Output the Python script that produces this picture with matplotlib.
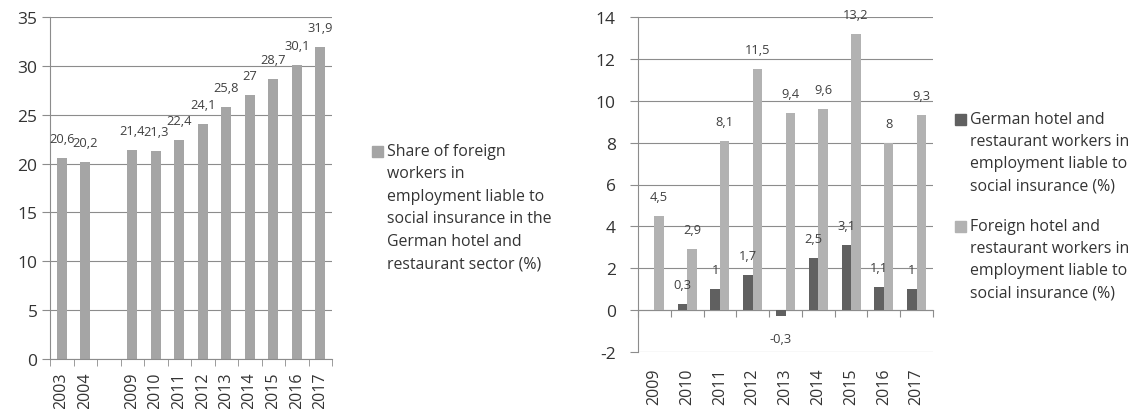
import numpy as np
import matplotlib
matplotlib.use("Agg")
import matplotlib.pyplot as plt
from matplotlib.patches import Rectangle

plt.rcParams["font.family"] = ["Open Sans", "DejaVu Sans"]
plt.rcParams["axes.unicode_minus"] = False

# Left chart: share of foreign workers
share_years = ["2003", "2004", "", "2009", "2010", "2011", "2012",
               "2013", "2014", "2015", "2016", "2017"]
share_values = [20.6, 20.2, np.nan, 21.4, 21.3, 22.4, 24.1,
                25.8, 27, 28.7, 30.1, 31.9]

# Right chart: year-on-year change
change_years = ["2009", "2010", "2011", "2012", "2013", "2014", "2015", "2016", "2017"]
german_change = [np.nan, 0.3, 1, 1.7, -0.3, 2.5, 3.1, 1.1, 1]
foreign_change = [4.5, 2.9, 8.1, 11.5, 9.4, 9.6, 13.2, 8, 9.3]

share_legend = ["Share of foreign", "workers in", "employment liable to",
                "social insurance in the", "German hotel and", "restaurant sector (%)"]
german_legend = ["German hotel and", "restaurant workers in",
                 "employment liable to", "social insurance (%)"]
foreign_legend = ["Foreign hotel and", "restaurant workers in",
                  "employment liable to", "social insurance (%)"]

W, H = 1136, 410
GRID = "#8c8c8c"
TEXT = "#404040"
TICK_TEXT = "#333333"
SHARE_COLOR = "#a5a5a5"
GERMAN_COLOR = "#606060"
FOREIGN_COLOR = "#b2b2b2"


def fmt(v: float) -> str:
    return f"{v:g}".replace(".", ",")


def style_axis(ax) -> None:
    ax.set_axisbelow(True)
    ax.grid(axis="y", color=GRID, linewidth=0.8)
    for spine in ["top", "right"]:
        ax.spines[spine].set_visible(False)
    for spine in ["left", "bottom"]:
        ax.spines[spine].set_color(GRID)
        ax.spines[spine].set_linewidth(0.8)


def label_bars(ax, xs, values, size=9.3) -> None:
    for xi, v in zip(xs, values):
        if np.isnan(v):
            continue
        offset = 14 if v >= 0 else -16
        ax.annotate(fmt(v), (xi, v), xytext=(0, offset), textcoords="offset points",
                    ha="center", va="center", fontsize=size, color=TEXT)


def draw_legend(fig, x_px, y_px, lines, color, step=22.5) -> None:
    fig.add_artist(Rectangle(((x_px - 15) / W, 1 - (y_px + 5.5) / H), 11 / W, 11 / H,
                             transform=fig.transFigure, color=color))
    for i, line in enumerate(lines):
        fig.text(x_px / W, 1 - (y_px + i * step) / H, line, fontsize=11.4,
                 color=TICK_TEXT, ha="left", va="center")


fig = plt.figure(figsize=(W / 100, H / 100), dpi=100)
fig.patch.set_facecolor("white")

# Left chart
ax1 = fig.add_axes([50 / W, (H - 360) / H, 282 / W, 342 / H])
x1 = np.arange(len(share_years))
ax1.bar(x1, share_values, width=0.43, color=SHARE_COLOR)
ax1.set_xlim(-0.5, len(share_years) - 0.5)
ax1.set_ylim(0, 35)
ax1.set_yticks(range(0, 36, 5))
style_axis(ax1)
ax1.tick_params(axis="y", length=6, color=GRID, pad=3, labelsize=12.5, labelcolor=TICK_TEXT)
ax1.set_xticks(x1, share_years, rotation=90)
ax1.set_xticks(np.arange(-0.5, len(share_years)), minor=True)
ax1.tick_params(axis="x", which="major", length=0, pad=9, labelsize=11.5, labelcolor=TICK_TEXT)
ax1.tick_params(axis="x", which="minor", length=5, color=GRID)
label_bars(ax1, x1, share_values)

# Right chart
ax2 = fig.add_axes([638 / W, (H - 353) / H, 295 / W, 335 / H])
x2 = np.arange(len(change_years))
w = 0.29
ax2.bar(x2 - w / 2, german_change, width=w, color=GERMAN_COLOR)
ax2.bar(x2 + w / 2, foreign_change, width=w, color=FOREIGN_COLOR)
ax2.set_xlim(-0.5, len(change_years) - 0.5)
ymin, ymax = -2, 14
ax2.set_ylim(ymin, ymax)
ax2.set_yticks(range(ymin, ymax + 1, 2))
style_axis(ax2)
ax2.spines["bottom"].set_visible(False)
ax2.tick_params(axis="y", length=6, color=GRID, pad=10, labelsize=12.5, labelcolor=TICK_TEXT)
ax2.set_xticks(x2, change_years, rotation=90)
ax2.tick_params(axis="x", length=0, pad=11, labelsize=11.5, labelcolor=TICK_TEXT)

zero_axis = ax2.secondary_xaxis((0 - ymin) / (ymax - ymin))
zero_axis.set_xticks(np.arange(-0.5, len(change_years)), labels=[])
zero_axis.tick_params(length=5, color=GRID)
zero_axis.spines["bottom"].set_color(GRID)
zero_axis.spines["bottom"].set_linewidth(0.8)

label_bars(ax2, x2 - w / 2, german_change)
label_bars(ax2, x2 + w / 2, foreign_change)

# Legends
draw_legend(fig, 387, 152, share_legend, SHARE_COLOR)
draw_legend(fig, 970, 120, german_legend, GERMAN_COLOR, step=22.2)
draw_legend(fig, 970, 227, foreign_legend, FOREIGN_COLOR, step=22.2)

fig.savefig("out.png", dpi=100)
